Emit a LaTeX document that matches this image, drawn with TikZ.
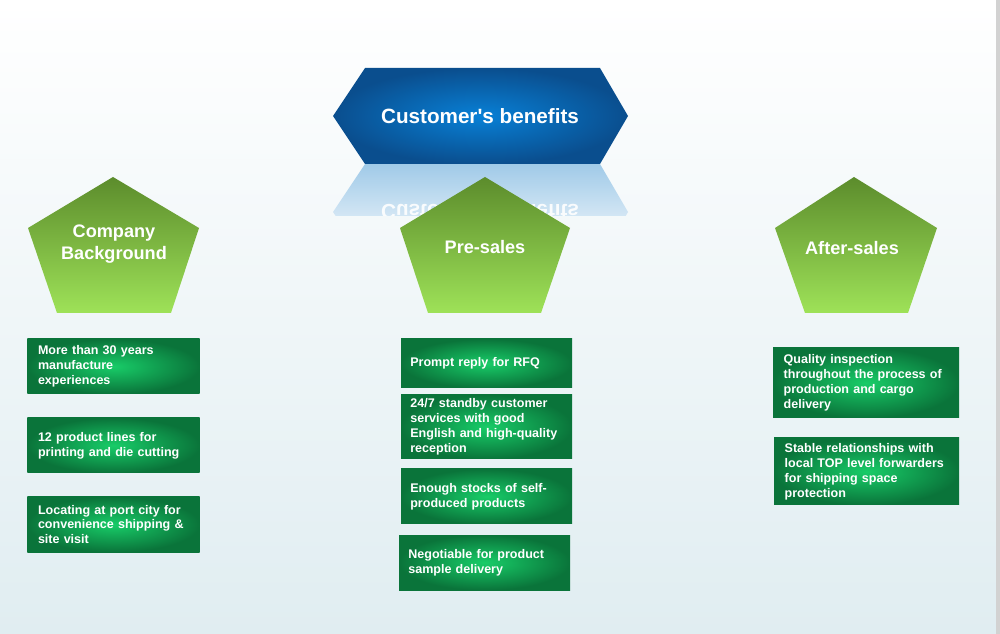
\documentclass[tikz,border=0pt]{standalone}
\usepackage{fontspec}
\setmainfont{Liberation Sans}
\usetikzlibrary{fadings}
\definecolor{bgbot}{RGB}{224,237,241}
\definecolor{hexin}{RGB}{8,128,214}
\definecolor{hexout}{RGB}{10,78,142}
\definecolor{pentop}{RGB}{92,140,44}
\definecolor{penbot}{RGB}{158,226,88}
\definecolor{boxin}{RGB}{24,204,104}
\definecolor{boxout}{RGB}{10,116,58}
\definecolor{refl}{RGB}{160,202,232}
\tikzset{
  gbox/.style={rectangle, inner color=boxin, outer color=boxout, text=white,
    font=\bfseries\fontsize{9.4}{11.2}\selectfont, align=left,
    inner xsep=8pt, inner ysep=0pt, anchor=center},
  pent/.style={top color=pentop, bottom color=penbot},
  pentxt/.style={text=white, font=\bfseries\fontsize{13.6}{16.5}\selectfont, align=center},
}
\begin{document}
\begin{tikzpicture}[x=0.75pt,y=-0.75pt]
\useasboundingbox (0,0) rectangle (1000,634);
% background
\shade[top color=white, bottom color=bgbot] (0,0) rectangle (1000,634);
\fill[gray!35] (996,0) rectangle (1000,634);
% reflection
\begin{scope}
\clip (300,164) rectangle (660,216);
\shade[top color=refl, bottom color=white!94!bgbot] (365,164) -- (600,164) -- (628,212) -- (600,260) -- (365,260) -- (333,212) -- cycle;
\node[text=white, opacity=0.9, font=\bfseries\fontsize{15.5}{18}\selectfont, yscale=-1] (refltxt) at (480,212) {Customer\textquotesingle s benefits};
\end{scope}
% hexagon
\shade[inner color=hexin, outer color=hexout] (365,68) -- (600,68) -- (628,116) -- (600,164) -- (365,164) -- (333,116) -- cycle;
\node[text=white, font=\bfseries\fontsize{15.5}{18}\selectfont] (title) at (480,116) {Customer\textquotesingle s benefits};
% pentagons
\shade[pent] (113,177) -- (199,228) -- (171,313) -- (57,313) -- (28,228) -- cycle;
\node[pentxt] (company) at (114,244) {Company\\Background};
\shade[pent] (485,177) -- (570,228) -- (541,313) -- (428,313) -- (400,228) -- cycle;
\node[pentxt] (presales) at (485,247) {Pre-sales};
\shade[pent] (854,177) -- (937,228) -- (908,313) -- (805,313) -- (775,228) -- cycle;
\node[pentxt] (aftersales) at (852,248) {After-sales};
% company boxes
\node[gbox, text width=113.25pt, minimum height=41.25pt] (c1) at (113.5,366.5) {More than 30 years\\manufacture\\experiences};
\node[gbox, text width=113.25pt, minimum height=41.25pt] (c2) at (113.5,445.5) {12 product lines for\\printing and die cutting};
\node[gbox, text width=113.25pt, minimum height=41.25pt] (c3) at (113.5,524.5) {Locating at port city for\\convenience shipping \&\\site visit};
% pre-sales boxes
\node[gbox, inner xsep=7pt, text width=114.25pt, minimum height=36.75pt] (p1) at (486.5,363.5) {Prompt reply for RFQ};
\node[gbox, inner xsep=7pt, text width=114.25pt, minimum height=48pt] (p2) at (486.5,427) {24/7 standby customer\\services with good\\English and high-quality\\reception};
\node[gbox, inner xsep=7pt, text width=114.25pt, minimum height=41.25pt] (p3) at (486.5,496.5) {Enough stocks of self-\\produced products};
\node[gbox, inner xsep=7pt, text width=114.25pt, minimum height=41.25pt] (p4) at (484.5,562.5) {Negotiable for product\\sample delivery};
% after-sales boxes
\node[gbox, text width=123.5pt, minimum height=52.5pt] (a1) at (866,383) {Quality inspection\\throughout the process of\\production and cargo\\delivery};
\node[gbox, text width=122.75pt, minimum height=50.25pt] (a2) at (866.5,471.5) {Stable relationships with\\local TOP level forwarders\\for shipping space\\protection};
\end{tikzpicture}
\end{document}
